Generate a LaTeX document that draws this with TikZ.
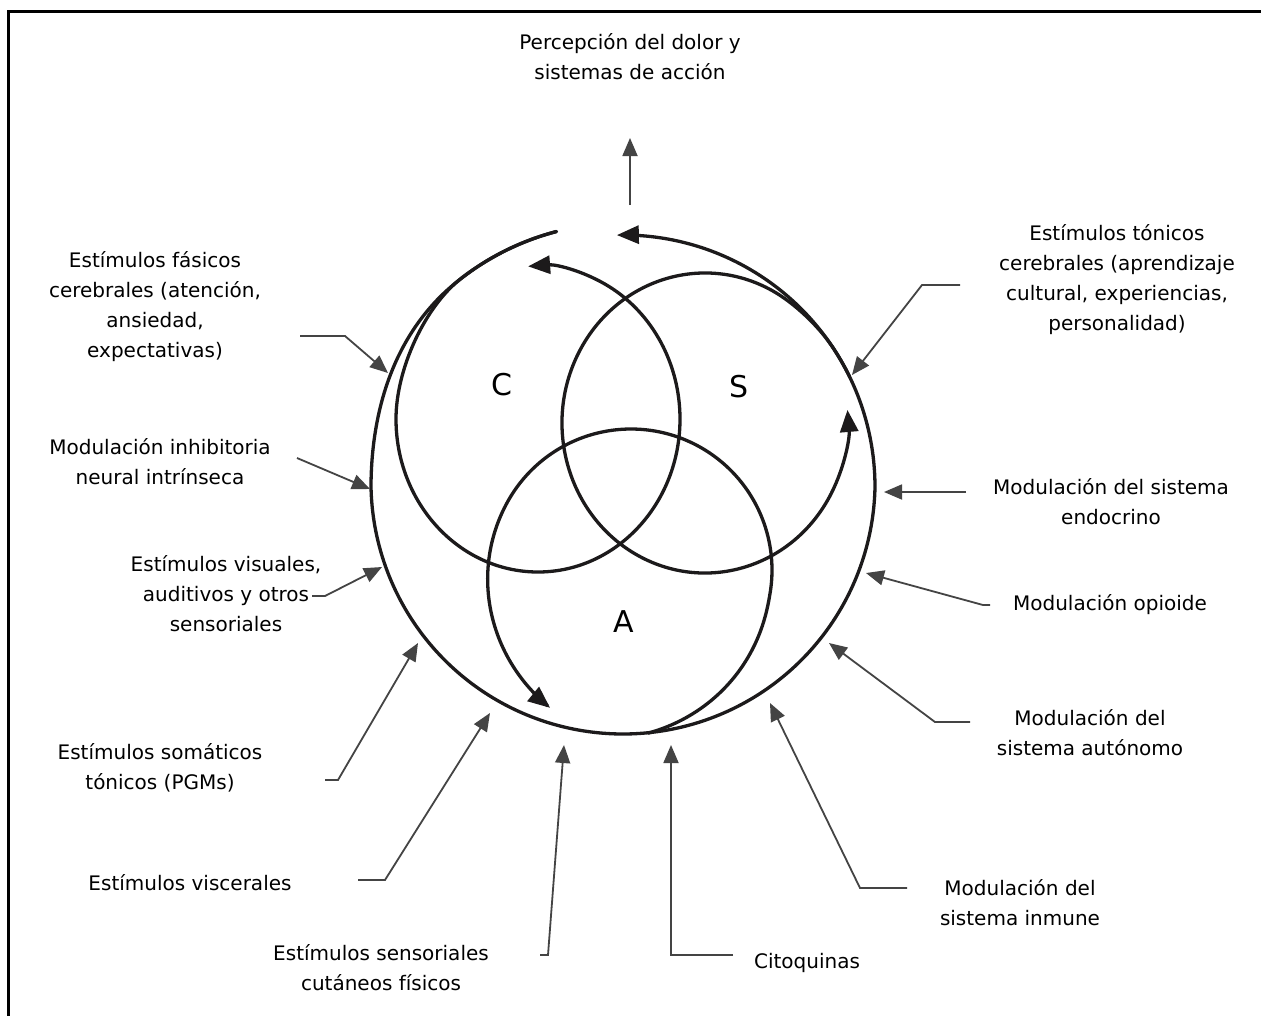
\documentclass[tikz,border=0pt]{standalone}
\usepackage{fontspec}
\setmainfont{DejaVu Sans}
\usetikzlibrary{arrows.meta}
\definecolor{ink}{HTML}{1C1A1B}
\definecolor{wire}{HTML}{444444}
\begin{document}
\begin{tikzpicture}[x=1bp,y=-1bp,
  declare function={
    bulge(\t)=sin(min(90,max(0,(\t-180)*1.8)));
    rout(\t)=252+12*bulge(\t)*bulge(\t)-5*max(0,sin(\t));
    ka(\t)=min(1,max(0,(\t-10)/74));
    kb(\t)=min(1,max(0,(-150-\t)/90));
    ra(\t)=141+23*ka(\t)*sqrt(ka(\t))+19*kb(\t)*kb(\t);
  },
  lbl/.style={font=\fontsize{20bp}{30bp}\selectfont, align=center, inner sep=0pt},
  big/.style={font=\fontsize{30bp}{34bp}\selectfont, inner sep=0pt},
  loopline/.style={draw=ink, line width=3.3bp, line cap=round},
  looptip/.style={-{Triangle[length=22bp,width=18bp]}},
  conn/.style={draw=wire, line width=1.8bp, -{Triangle[length=18bp,width=15bp]}}]
\fill[white] (0,0) rectangle (1263,1016);
\useasboundingbox (0,0) rectangle (1263,1016);
% frame (left and top edges)
\draw[line width=3bp] (8,1016) -- (8,11) -- (1261,11);

% outer loop, a circle that widens at its upper-left start
\draw[loopline, looptip] plot[domain=255.4:-91.4, samples=260, smooth, variable=\t]
  ({623+rout(\t)*cos(\t)}, {487+rout(\t)*sin(\t)});
% C loop: leaves the outer loop and turns round C
\draw[loopline, looptip]
  plot[domain=255.4:232, samples=25, smooth, variable=\t]
    ({623+rout(\t)*cos(\t)}, {487+rout(\t)*sin(\t)})
  .. controls (425.0,306.7) and (396,369) .. (396,419)
  arc[start angle=180, end angle=-94, x radius=142, y radius=153];
% S loop: leaves the outer loop at the upper right and turns round S
\draw[loopline, looptip]
  plot[domain=-26:-34, samples=9, smooth, variable=\t]
    ({623+rout(\t)*cos(\t)}, {487+rout(\t)*sin(\t)})
  .. controls (817.9,325.4) and (793.96,302.7) .. (772.13,290.56)
  arc[start angle=-62, end angle=-365, x radius=143, y radius=150];
% A loop: leaves the outer loop at the bottom and turns round A
\draw[loopline, looptip] plot[domain=84:-239.6, samples=220, smooth, variable=\t]
  ({631+ra(\t)*cos(\t)}, {570+ra(\t)*sin(\t)});

\node[big] (c) at (502,385) {C};
\node[big] (s) at (739,387) {S};
\node[big] (a) at (624,622) {A};

% labels
\node[lbl] (top) at (630,57) {Percepción del dolor y\\sistemas de acción};
\node[lbl] (fas) at (155,307) {Estímulos fásicos\\cerebrales (atención,\\ansiedad,\\expectativas)};
\node[lbl] (inh) at (160,462) {Modulación inhibitoria\\neural intrínseca};
\node[lbl] (vis) at (226,594) {Estímulos visuales,\\auditivos y otros\\sensoriales};
\node[lbl] (som) at (160,768) {Estímulos somáticos\\tónicos (PGMs)};
\node[lbl] (visc) at (190,883) {Estímulos viscerales};
\node[lbl] (cut) at (381,968) {Estímulos sensoriales\\cutáneos físicos};
\node[lbl] (cit) at (807,963) {Citoquinas};
\node[lbl] (inm) at (1020,903) {Modulación del\\sistema inmune};
\node[lbl] (aut) at (1090,733) {Modulación del\\sistema autónomo};
\node[lbl] (opi) at (1110,605) {Modulación opioide};
\node[lbl] (end) at (1111,502) {Modulación del sistema\\endocrino};
\node[lbl] (ton) at (1117,280) {Estímulos tónicos\\cerebrales (aprendizaje\\cultural, experiencias,\\personalidad)};

% connector points
\coordinate (topS) at (630,205); \coordinate (topT) at (630,138);
\coordinate (fasS) at (300,336); \coordinate (fasB) at (345,336); \coordinate (fasT) at (388,373);
\coordinate (inhS) at (297,458); \coordinate (inhT) at (370,489);
\coordinate (visS) at (312,596); \coordinate (visB) at (325,596); \coordinate (visT) at (382,567);
\coordinate (somS) at (325,780); \coordinate (somB) at (338,780); \coordinate (somT) at (418,643);
\coordinate (viscS) at (358,880); \coordinate (viscB) at (385,880); \coordinate (viscT) at (490,713);
\coordinate (cutS) at (540,955); \coordinate (cutB) at (548,955); \coordinate (cutT) at (564,745);
\coordinate (citS) at (733,955); \coordinate (citB) at (671,955); \coordinate (citT) at (671,745);
\coordinate (inmS) at (907,888); \coordinate (inmB) at (860,888); \coordinate (inmT) at (770,703);
\coordinate (autS) at (970,722); \coordinate (autB) at (935,722); \coordinate (autT) at (829,643);
\coordinate (opiS) at (990,605); \coordinate (opiB) at (983,605); \coordinate (opiT) at (866,573);
\coordinate (endS) at (966,492); \coordinate (endT) at (884,492);
\coordinate (tonS) at (960,285); \coordinate (tonB) at (922,285); \coordinate (tonT) at (852,375);

\draw[conn] (topS) -- (topT);
\draw[conn] (fasS) -- (fasB) -- (fasT);
\draw[conn] (inhS) -- (inhT);
\draw[conn] (visS) -- (visB) -- (visT);
\draw[conn] (somS) -- (somB) -- (somT);
\draw[conn] (viscS) -- (viscB) -- (viscT);
\draw[conn] (cutS) -- (cutB) -- (cutT);
\draw[conn] (citS) -- (citB) -- (citT);
\draw[conn] (inmS) -- (inmB) -- (inmT);
\draw[conn] (autS) -- (autB) -- (autT);
\draw[conn] (opiS) -- (opiB) -- (opiT);
\draw[conn] (endS) -- (endT);
\draw[conn] (tonS) -- (tonB) -- (tonT);
\end{tikzpicture}
\end{document}
